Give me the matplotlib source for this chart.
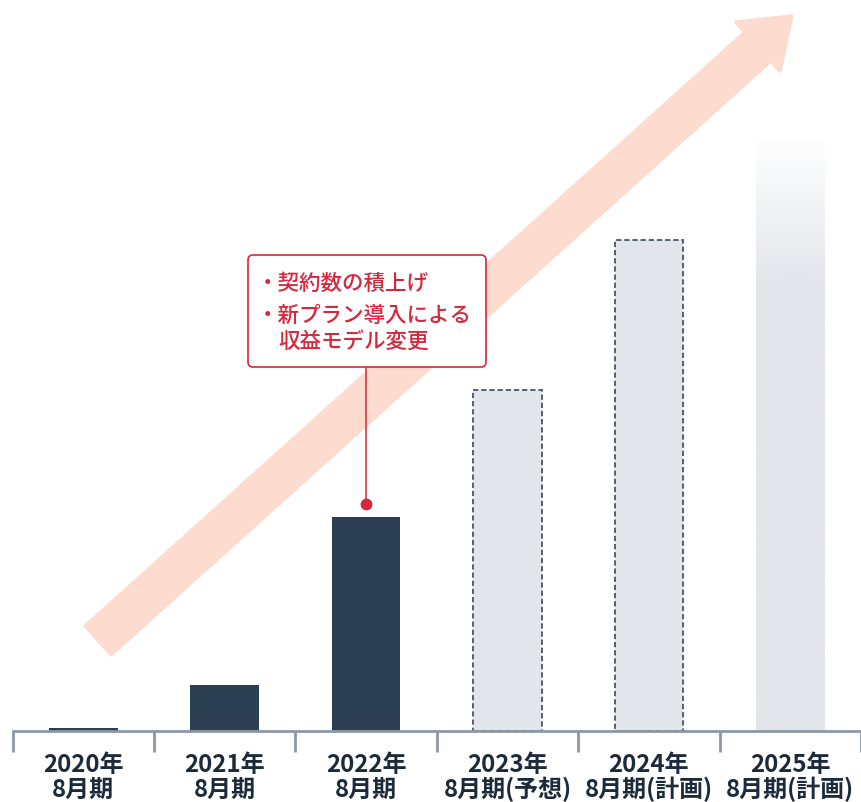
import numpy as np
import matplotlib
matplotlib.use('Agg')
import matplotlib.pyplot as plt
import matplotlib.transforms as mtransforms
from matplotlib.patches import FancyArrow, FancyBboxPatch
from matplotlib.colors import to_rgb

plt.rcParams['font.family'] = ['Noto Sans CJK JP', 'DejaVu Sans']

# ---------------- data ----------------
years = ['2020年', '2021年', '2022年', '2023年', '2024年', '2025年']
periods = ['8月期', '8月期', '8月期', '8月期(予想)', '8月期(計画)', '8月期(計画)']
values = [3, 46, 214, 341, 491, 591]
kinds = ['actual', 'actual', 'actual', 'forecast', 'plan', 'plan_fade']
fade_start = 444
note_lines = ['・契約数の積上げ', '・新プラン導入による', '収益モデル変更']
note_bar = 2

# ---------------- style ----------------
DARK = '#2c3e52'
LIGHT = '#e2e5ea'
DASH = '#506172'
AXIS = '#8d97a6'
TEXT = '#1c2b3b'
RED = '#d8263b'
ARROW = '#fddccf'

W, H = 861, 802
fig = plt.figure(figsize=(W / 100, H / 100), dpi=100)
ax = fig.add_axes([12.5 / W, (H - 731) / H, (W - 12.5) / W, 731 / H])
pix = mtransforms.Affine2D().scale(1 / 100, -1 / 100).translate(0, H / 100) + fig.dpi_scale_trans
blend = mtransforms.blended_transform_factory(ax.transData, pix)

# background arrow
start = np.array([97.0, 641.5])
tip = np.array([793.0, 15.0])
u = (tip - start) / np.linalg.norm(tip - start)
s = start + u * 2
t = tip - u * 2
arrow = FancyArrow(s[0], s[1], t[0] - s[0], t[1] - s[1], width=38, head_width=65,
                   head_length=45, length_includes_head=True, transform=pix,
                   facecolor=ARROW, edgecolor=ARROW, linewidth=3, joinstyle='round',
                   zorder=0.5, clip_on=False)
ax.add_patch(arrow)

bw = 0.485
for i, (v, k) in enumerate(zip(values, kinds)):
    if k == 'actual':
        ax.bar(i, v, bw, color=DARK, zorder=2)
    elif k in ('forecast', 'plan'):
        ax.bar(i, v, bw, color=LIGHT, edgecolor=DASH, linewidth=1.4,
               linestyle=(0, (2.7, 1.5)), zorder=2)
    else:
        n = 400
        ys = np.linspace(0, v, n)
        alpha = np.clip(1 - (ys - fade_start) / (v - fade_start), 0, 1) * 0.97 + 0.03
        alpha[ys < fade_start] = 1.0
        rgb = np.array(to_rgb(LIGHT))
        img = np.zeros((n, 1, 4))
        img[:, 0, :3] = rgb
        img[:, 0, 3] = alpha
        ax.imshow(img, extent=[i - bw / 2, i + bw / 2, 0, v], origin='lower',
                  aspect='auto', interpolation='bilinear', zorder=2)

ax.set_xlim(-0.5, -0.5 + (W - 12.5) / 142)
ax.set_ylim(0, 731)

# annotation
dot_y = values[note_bar] + 13
ax.plot([note_bar, note_bar], [dot_y, 731 - 367], color=RED, lw=1.1, zorder=4)
ax.plot(note_bar, dot_y, 'o', ms=7.5, color=RED, zorder=4)
box = FancyBboxPatch((248, 255), 238, 112, boxstyle='round,pad=0,rounding_size=5',
                     transform=pix, facecolor='white', edgecolor=RED, linewidth=1.2,
                     zorder=5, clip_on=False)
ax.add_patch(box)
for (tx, ty), line in zip([(257, 290), (257, 322), (278, 348)], note_lines):
    ax.text(tx, ty, line, transform=pix, fontsize=15.5, color=RED, ha='left',
            va='baseline', fontweight='medium', zorder=6)

# axis
for sp in ['top', 'left', 'right']:
    ax.spines[sp].set_visible(False)
ax.spines['bottom'].set_color(AXIS)
ax.spines['bottom'].set_linewidth(2)
ax.set_yticks([])
ax.set_xticks(np.arange(-0.5, len(values) - 0.4, 1.0))
ax.set_xticklabels([])
ax.tick_params(axis='x', direction='out', length=15, width=2, color=AXIS)
ax.patch.set_alpha(0)

for i, (yl, pl) in enumerate(zip(years, periods)):
    ax.text(i, 772, yl, transform=blend, ha='center', va='baseline', fontsize=17.3,
            fontweight='bold', color=TEXT, clip_on=False)
    ax.text(i, 797, pl, transform=blend, ha='center', va='baseline', fontsize=17.3,
            fontweight='bold', color=TEXT, clip_on=False)

fig.savefig('out.png', dpi=100)
